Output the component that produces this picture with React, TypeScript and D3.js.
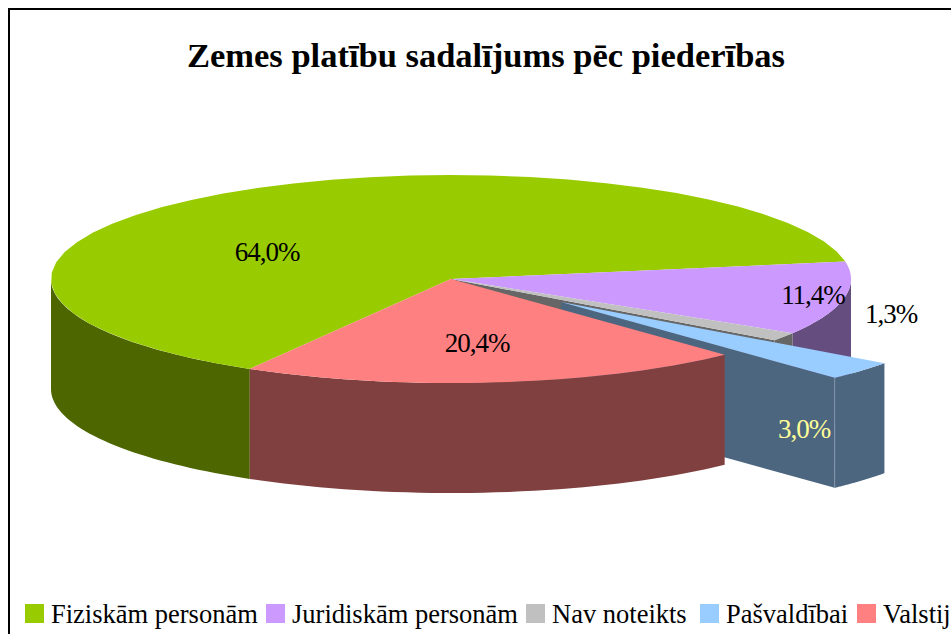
import React from 'react'
import * as d3 from 'd3'

const title = 'Zemes platību sadalījums pēc piederības'
const categories = ['Fiziskām personām', 'Juridiskām personām', 'Nav noteikts', 'Pašvaldībai', 'Valstij']
const shares = [64.0, 11.4, 1.3, 3.0, 20.4]
const shareLabels = ['64,0%', '11,4%', '1,3%', '3,0%', '20,4%']
const topColors = ['#99cc00', '#cc99ff', '#c0c0c0', '#99ccff', '#ff8080']
const wallColors = ['#4d6600', '#664d80', '#666666', '#4d6680', '#804040']
const labelColors = ['#000', '#000', '#000', '#ffff99', '#000']

const width = 951
const height = 634
const cx = 451
const cy = 279
const rx = 400
const ry = 104
const depth = 110

// where the pie starts, and how far the Pasvaldibai slice is pulled out
const startAngle = (210.2 * Math.PI) / 180
const shift = [110, 23]

const labelPos = [
  [267, 261],
  [813, 304],
  [891, 323],
  [804, 438],
  [477, 352]
]
const legendX = [25, 266, 526, 700, 857]

const slices = d3.pie<number>().sort(null).startAngle(startAngle).endAngle(startAngle + 2 * Math.PI)(shares)

// pie angle (0 = up, clockwise) to a point on the flattened ellipse
const rim = (a: number, dx = 0, dy = 0): [number, number] => [
  cx + dx + rx * Math.sin(a),
  cy + dy - ry * Math.cos(a)
]
const rimPoints = (a0: number, a1: number, dx = 0, dy = 0) =>
  d3.range(41).map(i => rim(a0 + ((a1 - a0) * i) / 40, dx, dy))

const line = d3.line()
const closed = (pts: [number, number][]) => line(pts) + 'Z'
const drop = (pts: [number, number][]) => pts.map(p => [p[0], p[1] + depth] as [number, number]).reverse()

const wall = (a0: number, a1: number, dx = 0, dy = 0) => {
  const pts = rimPoints(a0, a1, dx, dy)
  return closed([...pts, ...drop(pts)])
}
const top = (a0: number, a1: number) => closed([[cx, cy], ...rimPoints(a0, a1)])

export default function App() {
  const [green, purple, grey, blue, red] = slices
  const bluePts = rimPoints(blue.startAngle, blue.endAngle, shift[0], shift[1])
  const tip: [number, number] = [cx + shift[0], cy + shift[1]]
  const blueFront: [number, number][] = [tip, bluePts[bluePts.length - 1]]
  const greyEnd = rim(grey.endAngle)
  // only the near half of the rim has a visible wall
  const leftEdge = (Math.PI * 3) / 2
  const rightEdge = Math.PI * 2 + Math.PI / 2

  return (
    <svg width={width} height={height} style={{ position: 'absolute', left: 0, top: 0 }}>
      <rect width={width} height={height} fill="#fff" />
      <rect x={9} y={9} width={width + 20} height={height + 20} fill="none" stroke="#000" strokeWidth={2} />
      <text
        x={486}
        y={67}
        textAnchor="middle"
        fontFamily="Liberation Serif"
        fontWeight="bold"
        fontSize={34.5}
      >
        {title}
      </text>

      <path d={wall(green.startAngle, leftEdge)} fill={wallColors[0]} />
      <path d={wall(rightEdge, purple.endAngle)} fill={wallColors[1]} />
      <path d={wall(grey.startAngle, grey.endAngle)} fill={wallColors[2]} />
      <path
        d={closed([[cx, cy], greyEnd, [greyEnd[0], greyEnd[1] + depth], [cx, cy + depth]])}
        fill={wallColors[2]}
      />
      <path d={top(green.startAngle, green.endAngle)} fill={topColors[0]} />
      <path d={top(purple.startAngle, purple.endAngle)} fill={topColors[1]} />
      <path d={top(grey.startAngle, grey.endAngle)} fill={topColors[2]} />

      <path d={closed([...blueFront, ...drop(blueFront)])} fill={wallColors[3]} />
      <path d={wall(blue.startAngle, blue.endAngle, shift[0], shift[1])} fill={wallColors[3]} />
      <path
        d={line([blueFront[1], [blueFront[1][0], blueFront[1][1] + depth]]) || ''}
        stroke="#8496aa"
        fill="none"
      />
      <path d={closed([tip, ...bluePts])} fill={topColors[3]} />

      <path d={wall(red.startAngle, red.endAngle)} fill={wallColors[4]} />
      <path d={top(red.startAngle, red.endAngle)} fill={topColors[4]} />

      {shareLabels.map((s, i) => (
        <text
          key={s}
          x={labelPos[i][0]}
          y={labelPos[i][1]}
          textAnchor="middle"
          fontFamily="Liberation Serif"
          fontSize={27}
          letterSpacing={-1}
          fill={labelColors[i]}
        >
          {s}
        </text>
      ))}

      {categories.map((c, i) => (
        <g key={c} transform={`translate(${legendX[i]},604)`}>
          <rect width={19} height={19} fill={topColors[i]} />
          <text x={26} y={19} fontFamily="Liberation Serif" fontSize={26.5}>
            {c}
          </text>
        </g>
      ))}
    </svg>
  )
}
